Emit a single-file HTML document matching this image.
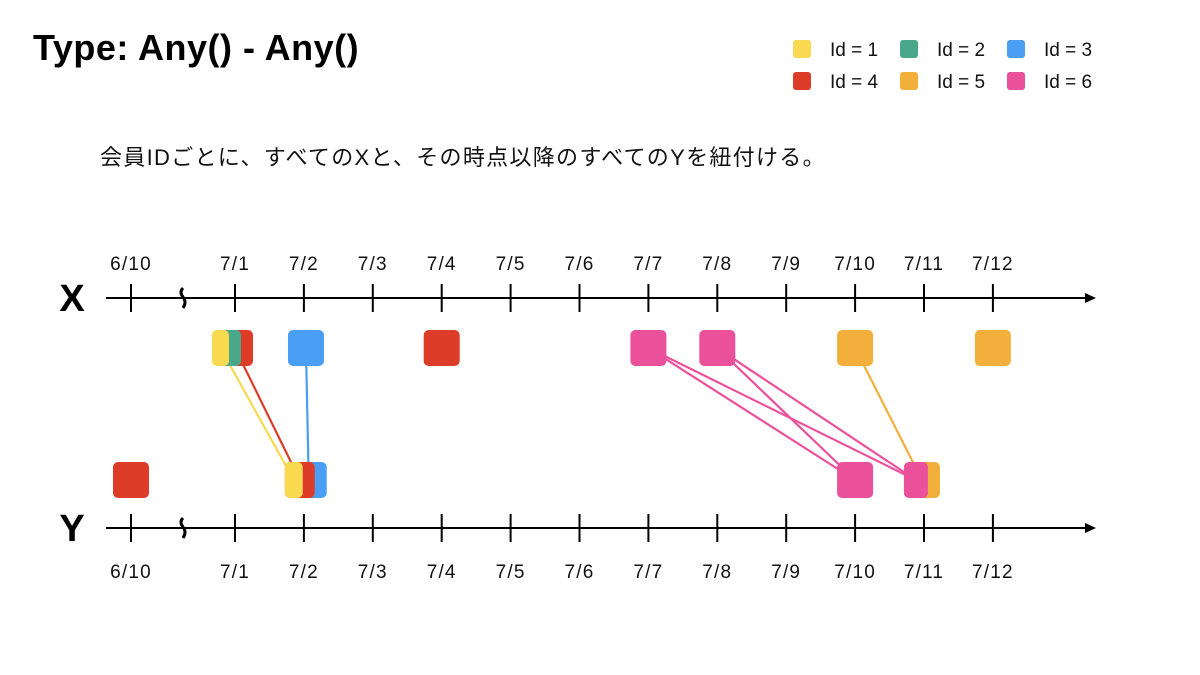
<!DOCTYPE html>
<html><head><meta charset="utf-8"><style>
body{margin:0;background:#fff;}
svg{display:block;font-family:"Liberation Sans","Noto Sans CJK JP",sans-serif;}
</style></head><body>
<svg id="chart" width="1200" height="675" viewBox="0 0 1200 675">
<text x="33" y="60" font-size="36" font-weight="bold" fill="#000" letter-spacing="0.5">Type: Any() - Any()</text>
<text x="100" y="165" font-size="22" fill="#111" letter-spacing="1.3">会員IDごとに、すべてのXと、その時点以降のすべてのYを紐付ける。</text>
<g id="legend"></g>
<g id="axes"></g>
<g id="lines"></g>
<g id="marks"></g>
</svg>
<script>
const tickLabels=["6/10","7/1","7/2","7/3","7/4","7/5","7/6","7/7","7/8","7/9","7/10","7/11","7/12"];
const tickDays=[0,1,2,3,4,5,6,7,8,9,10,11,12];
const ids=[1,2,3,4,5,6];
const idColors=["#f9d950","#4aa88a","#4a9ff5","#dd3c28","#f3af3c","#eb519b"];
// X events: id and day (0 = 6/10)
const xIds=[1,2,4,3,4,6,6,5,5];
const xDays=[0.927,0.942,1.0,2.03,4.0,7.0,8.0,10.0,12.0];
// Y events
const yIds=[4,1,4,3,6,6,5];
const yDays=[0,1.985,1.985,2.07,10.0,10.97,10.97];
// links: X index -> Y index
const linkX=[0,2,3,5,5,6,6,7];
const linkY=[1,2,3,4,5,4,5,6];

const NS="http://www.w3.org/2000/svg";
function mk(t,a,p){const e=document.createElementNS(NS,t);for(const k in a)e.setAttribute(k,a[k]);p.appendChild(e);return e;}
function px(d){return d<0.5?131+d*100:235+(d-1)*68.9;}
const axisY={X:298,Y:528};
const rowY={X:348,Y:480};
const S=36;

// legend
const lg=document.getElementById('legend');
ids.forEach((id,i)=>{
  const col=i%3,row=Math.floor(i/3);
  const x=793+col*107,y=40+row*32;
  const r=mk('rect',{x:x,y:y,width:18,height:18,rx:3,fill:idColors[i]},lg);
  
  
  const t=mk('text',{x:x+37,y:y+16,'font-size':19,fill:'#111'},lg);
  t.textContent='Id = '+id;
  
  
});

// axes
const ax=document.getElementById('axes');
['X','Y'].forEach(name=>{
  const y=axisY[name];
  const g=mk('g',{},ax);
  
  
  mk('line',{x1:106,y1:y,x2:1085,y2:y,stroke:'#000','stroke-width':2},g);
  mk('path',{d:`M1085 ${y-5} L1096 ${y} L1085 ${y+5} Z`,fill:'#000'},g);
  mk('path',{d:`M183 ${y-10} q-4 4 0 9 q4 5 0 11`,stroke:'#000','stroke-width':3,fill:'none'},g);
  const lab=mk('text',{x:72,y:y+13,'font-size':38,'font-weight':'bold','text-anchor':'middle'},g);
  lab.textContent=name;
  
  
  tickDays.forEach((d,i)=>{
    const x=px(d);
    mk('line',{x1:x,y1:y-14,x2:x,y2:y+14,stroke:'#000','stroke-width':2},g);
    const t=mk('text',{x:x,y:name==='X'?y-28:y+50,'font-size':19,'letter-spacing':1.2,'text-anchor':'middle',fill:'#111'},g);
    t.textContent=tickLabels[i];
    
    
  });
});

function rects(idsArr,days,row){
  const n=days.length;const out=[];
  for(let i=0;i<n;i++){const c=px(days[i]);out.push({i,c,l:c-S/2,r:c+S/2,id:idsArr[i],row});}
  const sorted=out.slice().sort((a,b)=>a.c-b.c||a.i-b.i);
  for(let k=sorted.length-2;k>=0;k--){
    const a=sorted[k],b=sorted[k+1];
    if(b.l<a.r){a.r=b.r-12;a.l=Math.min(a.l,b.l);}
  }
  return {out,sorted};
}
const X=rects(xIds,xDays,'X'),Y=rects(yIds,yDays,'Y');

const ln=document.getElementById('lines');
linkX.forEach((xi,k)=>{
  const a=X.out[xi],b=Y.out[linkY[k]];
  const l=mk('line',{x1:(a.l+a.r)/2,y1:rowY.X,x2:(b.l+b.r)/2,y2:rowY.Y,stroke:idColors[a.id-1],'stroke-width':2.2},ln);
  
  
});

const mg=document.getElementById('marks');
[X,Y].forEach(set=>{
  set.sorted.slice().reverse().forEach(m=>{
    const r=mk('rect',{x:m.l,y:rowY[m.row]-S/2,width:m.r-m.l,height:S,rx:5,fill:idColors[m.id-1]},mg);
    
    
  });
});
</script>
</body></html>
